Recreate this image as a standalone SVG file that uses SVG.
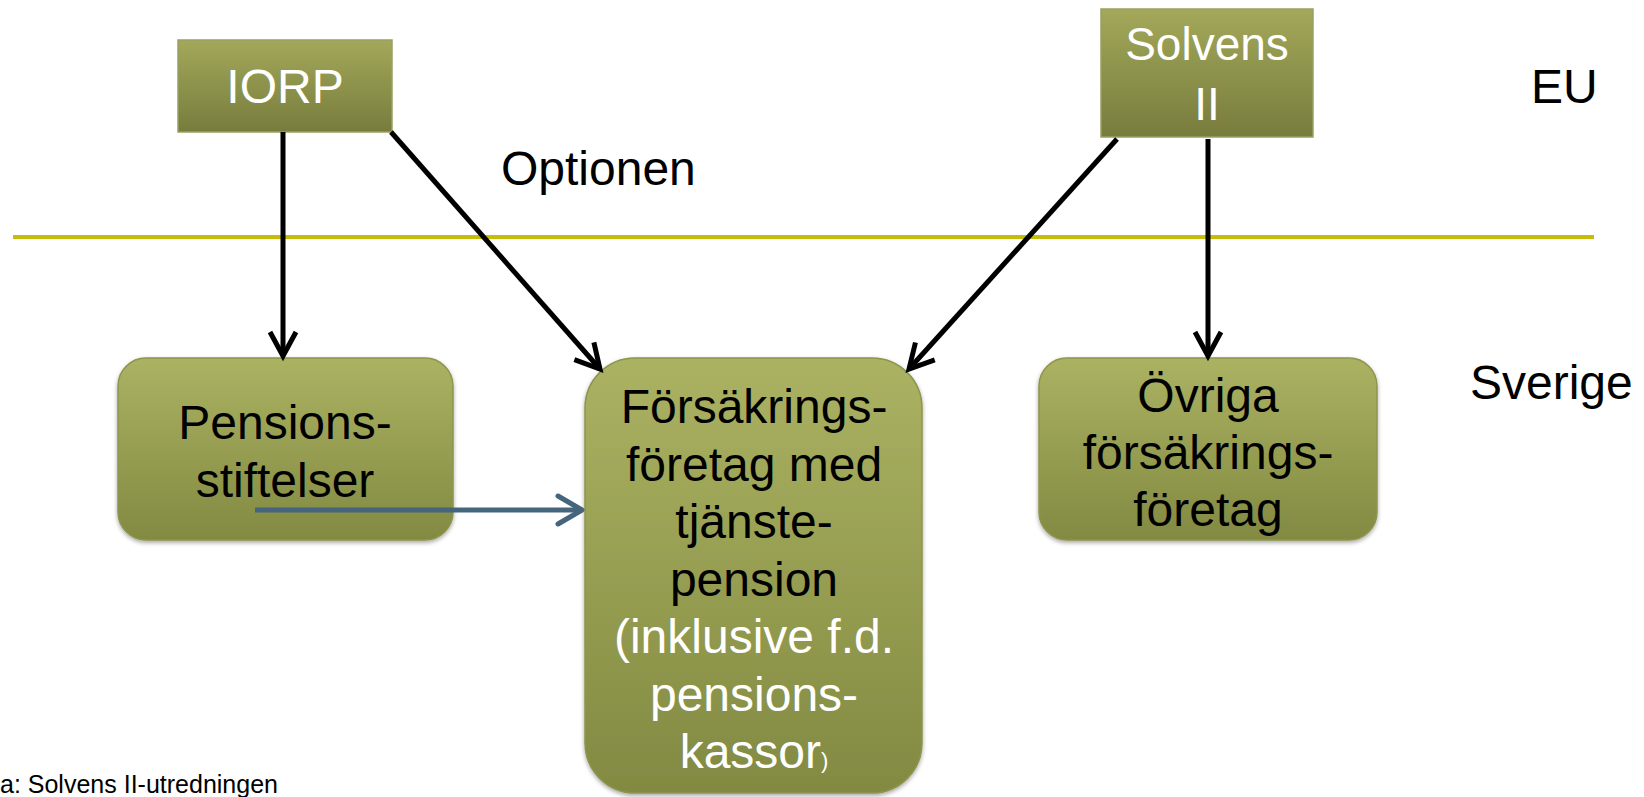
<svg xmlns="http://www.w3.org/2000/svg" width="1644" height="797" viewBox="0 0 1644 797">
  <defs>
    <linearGradient id="gRect" x1="0" y1="0" x2="0" y2="1">
      <stop offset="0" stop-color="#a3a85a"/>
      <stop offset="1" stop-color="#777c3d"/>
    </linearGradient>
    <linearGradient id="gRound" x1="0" y1="0" x2="0" y2="1">
      <stop offset="0" stop-color="#abb262"/>
      <stop offset="1" stop-color="#828a42"/>
    </linearGradient>
    <filter id="shadow" x="-10%" y="-10%" width="120%" height="120%">
      <feDropShadow dx="0" dy="2" stdDeviation="2" flood-color="#000" flood-opacity="0.35"/>
    </filter>
    <marker id="arrBlack" markerUnits="userSpaceOnUse" markerWidth="40" markerHeight="40" viewBox="-30 -20 40 40" refX="0" refY="0" orient="auto">
      <path d="M -24 -13 L 0 0 L -24 13" fill="none" stroke="#000" stroke-width="5" stroke-linejoin="miter"/>
    </marker>
    <marker id="arrBlue" markerUnits="userSpaceOnUse" markerWidth="40" markerHeight="40" viewBox="-30 -20 40 40" refX="0" refY="0" orient="auto">
      <path d="M -24 -14 L 0 0 L -24 14" fill="none" stroke="#44657c" stroke-width="5" stroke-linecap="round" stroke-linejoin="round"/>
    </marker>
  </defs>
  <style>
    .t { font-family: "Liberation Sans", Arial, sans-serif; font-size: 48px; text-anchor: middle; }
    .blk { fill: #000; }
    .wht { fill: #fff; }
    .lbl { font-family: "Liberation Sans", Arial, sans-serif; font-size: 48px; fill: #000; }
    .rbox { fill: url(#gRound); stroke: #8e944c; stroke-width: 1.5; filter: url(#shadow); }
    .sbox { fill: url(#gRect); stroke: #9aa062; stroke-width: 1.5; }
    .conn { stroke: #000; stroke-width: 5; fill: none; marker-end: url(#arrBlack); }
  </style>

  <rect width="1644" height="797" fill="#fff"/>

  <!-- divider line -->
  <line x1="13" y1="237" x2="1594" y2="237" stroke="#c8bc0a" stroke-width="4"/>

  <g id="node-iorp">
    <rect class="sbox" x="178" y="40" width="214" height="92"/>
    <text class="t wht" x="285" y="103">IORP</text>
  </g>

  <g id="node-solvens">
    <rect class="sbox" x="1101" y="9" width="212" height="128"/>
    <text class="t wht" x="1207" y="60" style="font-size:46px">Solvens</text>
    <text class="t wht" x="1207" y="120" style="font-size:46px">II</text>
  </g>

  <g id="node-pensionsstiftelser">
    <rect class="rbox" x="118" y="358" width="335" height="182" rx="28" ry="28"/>
    <text class="t blk" x="285" y="439">Pensions-</text>
    <text class="t blk" x="285" y="497">stiftelser</text>
  </g>

  <g id="node-forsakringsforetag">
    <rect class="rbox" x="585" y="358" width="337" height="435" rx="50" ry="50"/>
    <text class="t blk" x="754" y="423">Försäkrings-</text>
    <text class="t blk" x="754" y="481">företag med</text>
    <text class="t blk" x="754" y="538">tjänste-</text>
    <text class="t blk" x="754" y="596">pension</text>
    <text class="t wht" x="754" y="653">(inklusive f.d.</text>
    <text class="t wht" x="754" y="711">pensions-</text>
    <text class="t wht" x="754" y="768">kassor<tspan style="font-size:22px">)</tspan></text>
  </g>

  <g id="node-ovriga">
    <rect class="rbox" x="1039" y="358" width="338" height="182" rx="28" ry="28"/>
    <text class="t blk" x="1208" y="412">Övriga</text>
    <text class="t blk" x="1208" y="469">försäkrings-</text>
    <text class="t blk" x="1208" y="526">företag</text>
  </g>

  <g id="connectors">
    <line class="conn" x1="283" y1="132" x2="283" y2="356"/>
    <line class="conn" x1="391" y1="132" x2="600" y2="369"/>
    <line class="conn" x1="1117" y1="139" x2="909" y2="369"/>
    <line class="conn" x1="1208" y1="139" x2="1208" y2="356"/>
    <line x1="255" y1="510" x2="582" y2="510" stroke="#44657c" stroke-width="5" marker-end="url(#arrBlue)"/>
  </g>

  <g id="labels">
    <text class="lbl" x="501" y="185">Optionen</text>
    <text class="lbl" x="1531" y="103">EU</text>
    <text class="lbl" x="1470" y="399">Sverige</text>
    <text x="0" y="793" style="font-family:'Liberation Sans', Arial, sans-serif; font-size:25px; fill:#000">a: Solvens II-utredningen</text>
  </g>
</svg>
